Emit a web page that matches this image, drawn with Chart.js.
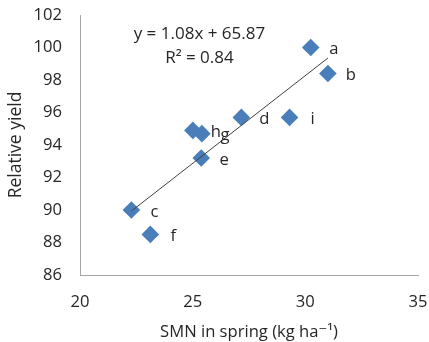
<!DOCTYPE html>
<html>
<head>
<meta charset="utf-8">
<script src="https://cdn.jsdelivr.net/npm/chart.js@4.4.1/dist/chart.umd.min.js"></script>
<style>
  html, body { margin: 0; padding: 0; background: #fff; }
  #wrap { position: relative; width: 429px; height: 342px; }
</style>
</head>
<body>
<div id="wrap"><canvas id="c"></canvas></div>
<script>
  /* ---------- data ---------- */
  var pointNames = ["a", "b", "c", "d", "e", "f", "g", "h", "i"];
  var smnSpring = [30.24, 31.0, 22.28, 27.16, 25.38, 23.12, 25.41, 25.01, 29.3];
  var relYield = [100.0, 98.4, 90.0, 95.7, 93.2, 88.5, 94.7, 94.9, 95.7];

  var xRange = [20, 35], xStep = 5;
  var yRange = [86, 102], yStep = 2;

  // fitted line as printed on the chart
  var trendSlope = 1.08, trendIntercept = 65.87;
  var eqLines = ["y = 1.08x + 65.87", "R² = 0.84"];
  var eqAnchorX = 25.3;
  var eqAnchorY = [100.83, 99.35];

  var FONT = "'Open Sans', 'DejaVu Sans', sans-serif";
  var FS = 16.6;
  var INK = "#262626";
  var BLUE = "#4a7ebb";
  var AXIS = "#a6a6a6";

  /* trend runs across the observed x range */
  var xMin = Math.min.apply(null, smnSpring), xMax = Math.max.apply(null, smnSpring);
  var trendPts = [xMin, xMax].map(function (x) {
    return { x: x, y: trendSlope * x + trendIntercept };
  });
  var scatterPts = smnSpring.map(function (x, i) { return { x: x, y: relYield[i] }; });

  /* ---------- point letters + equation ---------- */
  var labelPlugin = {
    id: "labels",
    afterDatasetsDraw: function (chart) {
      var ctx = chart.ctx, xs = chart.scales.x, ys = chart.scales.y;
      var meta = chart.getDatasetMeta(1);
      ctx.save();
      ctx.fillStyle = INK;
      ctx.textAlign = "center";
      ctx.textBaseline = "middle";
      ctx.font = FS + "px " + FONT;
      meta.data.forEach(function (pt, i) {
        ctx.fillText(pointNames[i], pt.x + 23, pt.y + 2);
      });
      ctx.font = "17px " + FONT;
      eqLines.forEach(function (t, i) {
        ctx.fillText(t, xs.getPixelForValue(eqAnchorX), ys.getPixelForValue(eqAnchorY[i]));
      });
      ctx.restore();
    }
  };

  new Chart(document.getElementById("c"), {
    type: "scatter",
    data: {
      datasets: [
        {
          type: "line",
          label: "trend",
          data: trendPts,
          borderColor: "#404040",
          borderWidth: 1,
          pointRadius: 0,
          fill: false,
          order: 0
        },
        {
          label: "plots",
          data: scatterPts,
          pointStyle: "rectRot",
          pointRadius: 8.8,
          pointBorderWidth: 0,
          backgroundColor: BLUE,
          borderColor: BLUE,
          order: 1
        }
      ]
    },
    options: {
      responsive: true,
      maintainAspectRatio: false,
      animation: false,
      layout: { padding: { top: 15, right: 11, left: 0, bottom: 0 } },
      plugins: { legend: { display: false }, tooltip: { enabled: false } },
      scales: {
        x: {
          type: "linear",
          min: xRange[0], max: xRange[1],
          ticks: { stepSize: xStep, color: INK, font: { family: FONT, size: FS }, padding: 0 },
          // invisible tick marks give the label gap without widening the edges
          grid: { display: false, drawTicks: true, tickLength: 17 },
          border: { color: AXIS, width: 1 },
          title: {
            display: true,
            text: "SMN in spring (kg ha⁻¹)",
            color: INK,
            font: { family: FONT, size: FS },
            padding: { top: 0, bottom: 0 }
          },
          afterFit: function (s) { s.height = 67; }
        },
        y: {
          min: yRange[0], max: yRange[1],
          ticks: { stepSize: yStep, color: INK, font: { family: FONT, size: FS }, padding: 0 },
          grid: { display: false, drawTicks: true, tickLength: 18 },
          border: { color: AXIS, width: 1 },
          title: {
            display: true,
            text: "Relative yield",
            color: INK,
            font: { family: FONT, size: 17.5 },
            padding: { top: 6, bottom: 0 }
          },
          afterFit: function (s) { s.width = 80; }
        }
      }
    },
    plugins: [labelPlugin]
  });
</script>
</body>
</html>
